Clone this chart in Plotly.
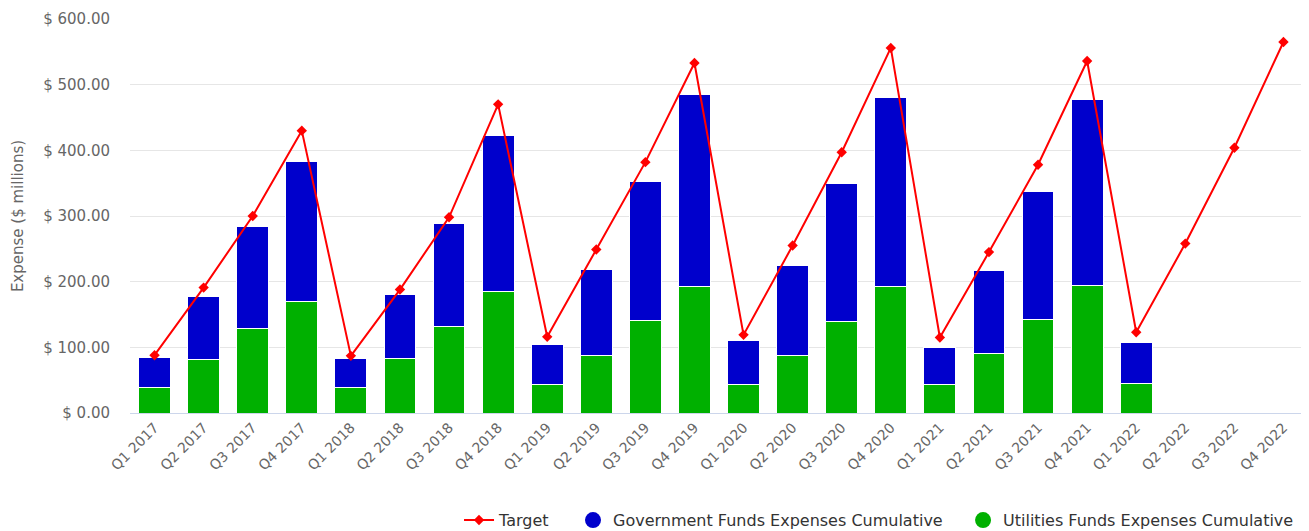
import plotly.graph_objects as go

quarters = ["Q1 2017", "Q2 2017", "Q3 2017", "Q4 2017",
            "Q1 2018", "Q2 2018", "Q3 2018", "Q4 2018",
            "Q1 2019", "Q2 2019", "Q3 2019", "Q4 2019",
            "Q1 2020", "Q2 2020", "Q3 2020", "Q4 2020",
            "Q1 2021", "Q2 2021", "Q3 2021", "Q4 2021",
            "Q1 2022", "Q2 2022", "Q3 2022", "Q4 2022"]

utilities = [39, 82, 128, 170, 39, 83, 132, 185, 43, 88, 141, 192,
             43, 88, 139, 192, 43, 90, 142, 194, 45, None, None, None]
government = [46, 96, 156, 213, 44, 97, 157, 237, 61, 131, 211, 293,
              67, 137, 211, 289, 56, 127, 195, 283, 63, None, None, None]
target = [88, 191, 300, 430, 87, 188, 298, 470, 116, 249, 382, 533,
          119, 255, 397, 556, 115, 245, 378, 536, 123, 258, 404, 565]

BLUE = "#0000CC"
GREEN = "#00B000"
RED = "#FF0000"
FONT = "DejaVu Sans"

fig = go.Figure()
fig.add_trace(go.Bar(x=quarters, y=utilities, marker=dict(color=GREEN, line=dict(color="white", width=1)),
                     name="Utilities Funds Expenses Cumulative", showlegend=False))
fig.add_trace(go.Bar(x=quarters, y=government, marker=dict(color=BLUE, line=dict(color="white", width=1)),
                     name="Government Funds Expenses Cumulative", showlegend=False))
fig.add_trace(go.Scatter(x=quarters, y=target, mode="lines+markers", name="Target",
                         line=dict(color=RED, width=2), legend="legend",
                         marker=dict(symbol="diamond", size=8, color=RED)))
# legend-only entries with circle symbols
fig.add_trace(go.Scatter(x=[None], y=[None], mode="markers", name="Government Funds Expenses Cumulative",
                         legend="legend2", marker=dict(symbol="circle", size=16, color=BLUE)))
fig.add_trace(go.Scatter(x=[None], y=[None], mode="markers", name="Utilities Funds Expenses Cumulative",
                         legend="legend3", marker=dict(symbol="circle", size=16, color=GREEN)))

legend_common = dict(orientation="h", xanchor="right", y=-0.272, yanchor="middle",
                     font=dict(size=16, color="#333333"), itemsizing="trace",
                     bgcolor="rgba(0,0,0,0)")

# page body adds an 8px offset, so margins are shifted accordingly
fig.update_layout(
    width=1301, height=531,
    barmode="stack", bargap=0.35,
    plot_bgcolor="white", paper_bgcolor="white",
    margin=dict(l=122, r=1, t=11, b=126),
    font=dict(family=FONT, color="#666666", size=13),
    legend=dict(x=0.3608, **legend_common),
    legend2=dict(x=0.6944, **legend_common),
    legend3=dict(x=0.9924, **legend_common),
    xaxis=dict(tickangle=-45, showline=True, linecolor="#ccd6eb", linewidth=1, automargin=False,
               range=[-0.5, 23.5],
               showgrid=False, tickfont=dict(size=14, color="#666666"), ticks=""),
    yaxis=dict(range=[0, 600], dtick=100, tickprefix="$ ", tickformat=".2f", automargin=False,
               gridcolor="#e6e6e6", zeroline=False, ticks="outside", ticklen=16,
               tickcolor="rgba(0,0,0,0)",
               tickfont=dict(size=15, color="#666666"),
               title=dict(text="Expense ($ millions)", font=dict(size=15, color="#666666"), standoff=15)),
)

fig.write_html("out.html")
